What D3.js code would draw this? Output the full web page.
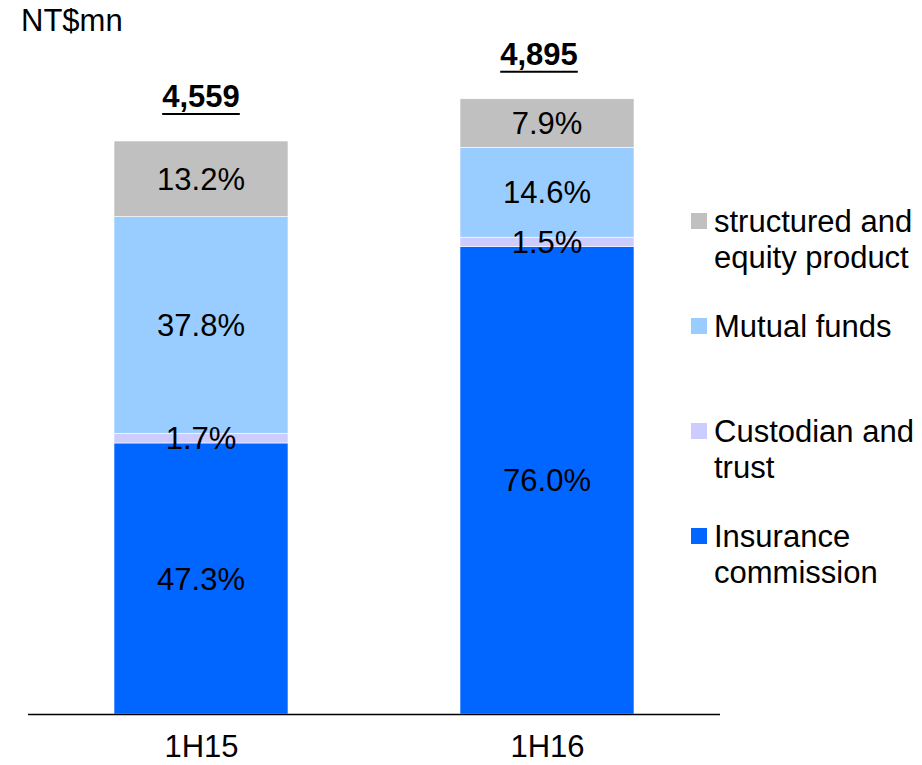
<!DOCTYPE html>
<html>
<head>
<meta charset="utf-8">
<script src="https://cdn.jsdelivr.net/npm/d3@7"></script>
<style>
  body { margin: 0; background: #fff; }
  svg { display: block; font-family: Arial, "Liberation Sans", sans-serif; }
</style>
</head>
<body>
<svg id="chart" width="922" height="765"></svg>
<script>
// categories and totals (NT$mn)
var periods = ['1H15', '1H16'];
var totals = [4559, 4895];
var totalLabels = ['4,559', '4,895'];

// share of each segment, stacked bottom to top
var seriesNames = ['Insurance commission', 'Custodian and trust', 'Mutual funds', 'structured and equity product'];
var insurance = [47.3, 76.0];
var custodian = [1.7, 1.5];
var mutualFunds = [37.8, 14.6];
var structured = [13.2, 7.9];

var colors = ['#0066FF', '#CCCCFF', '#99CCFF', '#C0C0C0'];

// legend rows (top to bottom), each label split on lines
var legendLines = [
  ['structured and', 'equity product'],
  ['Mutual funds'],
  ['Custodian and', 'trust'],
  ['Insurance', 'commission']
];
var legendColors = ['#C0C0C0', '#99CCFF', '#CCCCFF', '#0066FF'];
var legendY = [232, 337, 442, 547];

var svg = d3.select('#chart');
var fontSize = 31;
var barWidth = 174;
// the 1H16 total sits a little left of its bar in the original
var totalShift = [0, -8];

var x = d3.scalePoint()
          .domain(periods)
          .range([28, 720])
          .padding(0.5);

var y = d3.scaleLinear()
          .domain([0, 5000])
          .range([714, 714 - 5000 * 573 / 4559]);

// build stacked rows
var shares = [insurance, custodian, mutualFunds, structured];
var rows = periods.map(function(p, i) {
  var row = { period: p };
  seriesNames.forEach(function(s, k) { row[s] = totals[i] * shares[k][i] / 100; });
  return row;
});
var stack = d3.stack().keys(seriesNames)(rows);

var g = svg.append('g');

stack.forEach(function(layer, k) {
  g.selectAll('rect.s' + k)
    .data(layer)
    .enter()
    .append('rect')
    .attr('class', 's' + k)
    .attr('x', function(d) { return x(d.data.period) - barWidth / 2; })
    .attr('y', function(d) { return y(d[1]); })
    .attr('width', barWidth)
    .attr('height', function(d) { return y(d[0]) - y(d[1]); })
    .attr('fill', colors[k])
    .attr('stroke', '#fff')
    .attr('stroke-width', 0.6);
});

// percentage labels
stack.forEach(function(layer, k) {
  g.selectAll('text.p' + k)
    .data(layer)
    .enter()
    .append('text')
    .attr('x', function(d) { return x(d.data.period); })
    .attr('y', function(d) { return (y(d[0]) + y(d[1])) / 2; })
    .attr('dy', '0.36em')
    .attr('text-anchor', 'middle')
    .attr('font-size', fontSize)
    .attr('fill', '#000')
    .text(function(d, i) { return shares[k][i].toFixed(1) + '%'; });
});

// totals, bold and underlined
periods.forEach(function(p, i) {
  var tx = x(p) + totalShift[i];
  var ty = y(totals[i]) - 34;
  var t = g.append('text')
    .attr('x', tx)
    .attr('y', ty)
    .attr('text-anchor', 'middle')
    .attr('font-size', fontSize)
    .attr('font-weight', 'bold')
    .text(totalLabels[i]);
  var w = t.node().getComputedTextLength();
  g.append('line')
    .attr('x1', tx - w / 2)
    .attr('x2', tx + w / 2)
    .attr('y1', ty + 7)
    .attr('y2', ty + 7)
    .attr('stroke', '#000')
    .attr('stroke-width', 2);
});

// x axis
var xAxis = svg.append('g')
  .attr('transform', 'translate(0,' + y(0) + ')')
  .call(d3.axisBottom(x).tickSize(0).tickPadding(21));
xAxis.select('.domain').attr('d', 'M28,0.5H720').attr('stroke', '#000').attr('stroke-width', 1.5);
xAxis.selectAll('.tick text')
  .attr('font-size', fontSize)
  .attr('font-family', 'Arial, "Liberation Sans", sans-serif')
  .attr('fill', '#000');

// unit label
svg.append('text')
  .attr('x', 21)
  .attr('y', 31)
  .attr('font-size', fontSize)
  .text('NT$mn');

// legend
var legend = svg.append('g');
legendLines.forEach(function(lines, i) {
  legend.append('rect')
    .attr('x', 691)
    .attr('y', legendY[i] - 19)
    .attr('width', 16)
    .attr('height', 16)
    .attr('fill', legendColors[i]);
  lines.forEach(function(line, j) {
    legend.append('text')
      .attr('x', 714)
      .attr('y', legendY[i] + j * 36)
      .attr('font-size', fontSize)
      .text(line);
  });
});
</script>
</body>
</html>
